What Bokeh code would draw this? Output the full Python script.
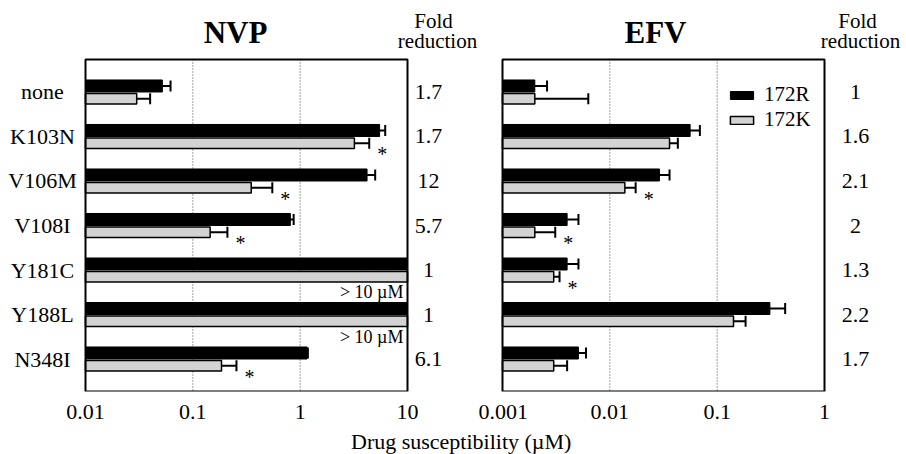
import math
import numpy as np
from bokeh.plotting import figure
from bokeh.layouts import row, column
from bokeh.models import (Range1d, FixedTicker, Whisker, TeeHead, ColumnDataSource,
                          Legend, LegendItem, Div)
from bokeh.core.properties import value
from bokeh.embed import file_html
from bokeh.resources import INLINE

# ---------------- data ----------------
categories = ["none", "K103N", "V106M", "V108I", "Y181C", "Y188L", "N348I"]

# NVP (uM); 10 means "> 10 uM" (off scale)
nvp_172R = [0.052, 5.5, 4.2, 0.81, 10, 10, 1.16]
nvp_172R_err = [0.062, 6.2, 5.0, 0.87, 10, 10, 1.18]
nvp_172K = [0.030, 3.2, 0.35, 0.145, 10, 10, 0.185]
nvp_172K_err = [0.040, 4.4, 0.55, 0.21, 10, 10, 0.255]
nvp_above_max = [False, False, False, False, True, True, False]
nvp_signif = [False, True, True, True, False, False, True]
nvp_fold = ["1.7", "1.7", "12", "5.7", "1", "1", "6.1"]

# EFV (uM)
efv_172R = [0.0020, 0.056, 0.029, 0.0040, 0.0040, 0.31, 0.0051]
efv_172R_err = [0.0026, 0.069, 0.036, 0.0051, 0.0051, 0.43, 0.0060]
efv_172K = [0.0020, 0.036, 0.0138, 0.0020, 0.0030, 0.142, 0.0030]
efv_172K_err = [0.0063, 0.043, 0.0174, 0.0031, 0.0034, 0.184, 0.0040]
efv_above_max = [False] * 7
efv_signif = [False, False, True, True, True, False, False]
efv_fold = ["1", "1.6", "2.1", "2", "1.3", "2.2", "1.7"]

nvp_ticks = [0.01, 0.1, 1, 10]
nvp_tick_labels = ["0.01", "0.1", "1", "10"]
efv_ticks = [0.001, 0.01, 0.1, 1]
efv_tick_labels = ["0.001", "0.01", "0.1", "1"]

series_names = ["172R", "172K"]
fold_header = ["Fold", "reduction"]
above_text = "> 10 \u00b5M"
x_title = "Drug susceptibility (\u00b5M)"

# ---------------- layout / style ----------------
FONT = "Liberation Serif"
H = 430                 # figure height
PANEL_TOP = 59          # px from top of canvas to the panel box
PANEL_BOTTOM = 391      # px from top of canvas to the panel box bottom
PANEL_W = 322           # px width of each panel box
PAD = 0.73              # row padding (row units) inside the panel box
BLACK_OFF, BLACK_H = -0.135, 0.27
LIGHT_OFF, LIGHT_H = 0.15, 0.235
LIGHT_FILL = "#d3d3d3"
n = len(categories)
ROW_PX = (PANEL_BOTTOM - PANEL_TOP) / (n - 1 + 2 * PAD)


def panel(title, ticks, tick_labels, r_vals, r_err, k_vals, k_err, above, signif, fold,
          width, panel_left, title_dx, fold_dx, head_dx, show_cats=False, legend=False):
    x0, x1 = ticks[0], ticks[-1]
    dec_px = PANEL_W / (math.log10(x1) - math.log10(x0))
    xr = Range1d(10 ** (math.log10(x0) - panel_left / dec_px),
                 10 ** (math.log10(x1) + (width - panel_left - PANEL_W) / dec_px))
    y_top = -PAD - PANEL_TOP / ROW_PX
    y_bot = n - 1 + PAD
    idx = np.arange(n).astype(float)

    p = figure(width=width, height=H, x_axis_type="log", title=None,
               x_range=xr, y_range=Range1d(y_bot, y_top),
               output_backend="svg", toolbar_location=None,
               min_border_left=0, min_border_right=0, min_border_top=0,
               min_border_bottom=H - PANEL_BOTTOM)
    p.outline_line_color = None
    p.background_fill_color = "white"
    p.border_fill_color = "white"
    p.xgrid.visible = False
    p.ygrid.visible = False
    p.yaxis.visible = False

    ax = p.xaxis[0]
    ax.ticker = FixedTicker(ticks=ticks)
    ax.major_label_overrides = {t: l for t, l in zip(ticks, tick_labels)}
    ax.axis_line_color = None
    ax.major_tick_line_color = None
    ax.minor_tick_line_color = None
    ax.major_label_text_font = FONT
    ax.major_label_text_font_size = "22px"
    ax.major_label_text_color = "black"
    ax.major_label_standoff = 7

    # dotted grid lines inside the panel box
    inner = ticks[1:-1]
    p.segment(x0=inner, x1=inner, y0=[-PAD] * len(inner), y1=[y_bot] * len(inner),
              line_color="#444444", line_dash="1 2", line_width=1)

    left = [x0] * n
    src_r = ColumnDataSource(dict(y=idx + BLACK_OFF, right=r_vals, left=left))
    src_k = ColumnDataSource(dict(y=idx + LIGHT_OFF, right=k_vals, left=left))
    rr = p.hbar(y="y", left="left", right="right", height=BLACK_H, source=src_r,
                fill_color="black", line_color="black", line_width=1)
    rk = p.hbar(y="y", left="left", right="right", height=LIGHT_H, source=src_k,
                fill_color=LIGHT_FILL, line_color="black", line_width=1.5)

    # one-sided error bars
    for off, vals, errs in ((BLACK_OFF, r_vals, r_err), (LIGHT_OFF, k_vals, k_err)):
        keep = [i for i in range(n) if errs[i] > vals[i]]
        es = ColumnDataSource(dict(base=[i + off for i in keep],
                                   lower=[vals[i] for i in keep],
                                   upper=[errs[i] for i in keep]))
        p.add_layout(Whisker(base="base", lower="lower", upper="upper", dimension="width",
                             source=es, line_color="black", line_width=2,
                             lower_head=None,
                             upper_head=TeeHead(size=11, line_color="black", line_width=2)))

    # panel box
    p.quad(left=[x0], right=[x1], top=[-PAD], bottom=[y_bot], fill_color=None,
           line_color="black", line_width=2)

    # significance asterisks
    sig = [i for i in range(n) if signif[i]]
    ss = ColumnDataSource(dict(x=[k_err[i] for i in sig], y=[i + LIGHT_OFF for i in sig]))
    p.text(x="x", y="y", text=value("*"), source=ss, x_offset=13, y_offset=11,
           text_font=value(FONT), text_font_size="20px", text_align="center",
           text_baseline="alphabetic", text_color="black")

    # off-scale notes
    ab = [i for i in range(n) if above[i]]
    if ab:
        s_ab = ColumnDataSource(dict(x=[x1] * len(ab), y=[float(i) for i in ab]))
        p.text(x="x", y="y", text=value(above_text), source=s_ab, x_offset=-4, y_offset=22,
               text_font=value(FONT), text_font_size="18px", text_align="right",
               text_baseline="middle", text_color="black")

    # category labels
    if show_cats:
        p.text(x=[x0] * n, y=idx, text=categories, x_offset=-43,
               text_font=value(FONT), text_font_size="22px", text_align="center",
               text_baseline="middle", text_color="black")

    # fold reduction column
    p.text(x=[x1] * n, y=idx, text=fold, x_offset=fold_dx,
           text_font=value(FONT), text_font_size="22px", text_align="center",
           text_baseline="middle", text_color="black")
    p.text(x=[x1, x1], y=[-PAD, -PAD], text=fold_header,
           x_offset=head_dx, y_offset=[-(PANEL_TOP - 20.5), -(PANEL_TOP - 40.5)],
           text_font=value(FONT), text_font_size="21px", text_align="center",
           text_baseline="middle", text_color="black")

    # panel title
    p.text(x=[x0], y=[-PAD], text=[title], x_offset=title_dx, y_offset=-(PANEL_TOP - 31.5),
           text_font=value(FONT), text_font_size="31px", text_font_style="bold",
           text_align="center", text_baseline="middle", text_color="black")

    if legend:
        for r, name, vy in ((rr, series_names[0], 284), (rk, series_names[1], 259)):
            lg = Legend(items=[LegendItem(label=name, renderers=[r])],
                        location=(panel_left + 225, vy),
                        glyph_width=29, glyph_height=10, label_standoff=8,
                        label_text_font=FONT, label_text_font_size="21px",
                        label_text_color="black",
                        label_height=20, padding=0, margin=0, spacing=0,
                        border_line_color=None, background_fill_alpha=0)
            p.add_layout(lg)
    return p


p1 = panel("NVP", nvp_ticks, nvp_tick_labels, nvp_172R, nvp_172R_err, nvp_172K, nvp_172K_err,
           nvp_above_max, nvp_signif, nvp_fold, width=478, panel_left=85,
           title_dx=150, fold_dx=21, head_dx=[26, 30], show_cats=True)
p2 = panel("EFV", efv_ticks, efv_tick_labels, efv_172R, efv_172R_err, efv_172K, efv_172K_err,
           efv_above_max, efv_signif, efv_fold, width=428, panel_left=24,
           title_dx=153, fold_dx=31, head_dx=[33, 36], legend=True)

xlabel = Div(text=('<div style="font-family:\'Liberation Serif\'; font-size:22px; '
                   'line-height:24px; padding-left:351px; white-space:nowrap; color:black;">'
                   + x_title + '</div>'),
             width=906, height=24, margin=0)

layout = column(row(p1, p2, spacing=0), xlabel, spacing=0)

with open("out.html", "w") as f:
    f.write(file_html(layout, INLINE))
